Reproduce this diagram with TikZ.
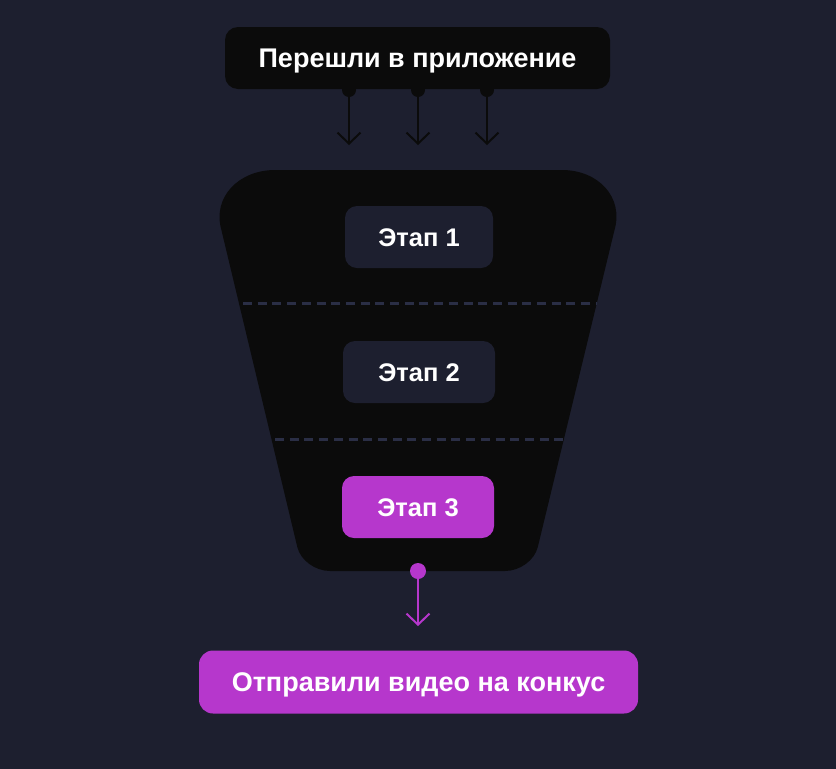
\documentclass[tikz,border=0pt]{standalone}
\usepackage{fontspec}
\setmainfont{Liberation Sans}
\usetikzlibrary{arrows.meta}
\definecolor{bg}{HTML}{1D1F2F}
\definecolor{blk}{HTML}{0B0B0B}
\definecolor{mag}{HTML}{B637CC}
\definecolor{dsh}{HTML}{2A2E45}
\tikzset{
  box/.style={rectangle, rounded corners=13pt, minimum height=62pt, inner sep=0pt, text=white, text height=18.5pt, text depth=0pt, font=\fontsize{27}{32}\selectfont\bfseries},
  darkbox/.style={box, fill=blk},
  stagebox/.style={box, fill=bg, rounded corners=12pt, font=\fontsize{25.5}{30}\selectfont\bfseries},
  hotbox/.style={box, fill=mag, rounded corners=12pt},
  sep/.style={dsh, line width=3pt, dash pattern=on 9pt off 5.7pt},
  conn/.style={line width=2pt, -{Straight Barb[length=11pt,width=23pt]}},
}
\begin{document}
\begin{tikzpicture}[x=1pt,y=-1pt]
\fill[bg] (0,0) rectangle (836,769);
\useasboundingbox (0,0) rectangle (836,769);
% funnel
\fill[blk] (275,170) -- (562,170) .. controls (598,170) and (624,197) .. (614.5,230)
  -- (537.8,547) .. controls (534.6,560.2) and (519.9,571) .. (505,571)
  -- (330,571) .. controls (315.2,571) and (300.4,560.2) .. (297.3,547)
  -- (221.4,230) .. controls (212,197) and (239,170) .. (275,170) -- cycle;
\coordinate (d1l) at (243,303); \coordinate (d1r) at (597,303);
\coordinate (d2l) at (275,439); \coordinate (d2r) at (565,439);
\draw[sep] (d1l) -- (d1r);
\draw[sep] (d2l) -- (d2r);
% top arrows
\coordinate (s1) at (349,90); \coordinate (e1) at (349,145);
\coordinate (s2) at (418,90); \coordinate (e2) at (418,145);
\coordinate (s3) at (487,90); \coordinate (e3) at (487,145);
\foreach \i in {1,2,3}{
  \fill[blk] (s\i) circle (7pt);
  \draw[conn, blk] (s\i) -- (e\i);
}
\node[darkbox, minimum width=385pt] (top) at (417.5,58) {Перешли в приложение};
\node[stagebox, minimum width=148pt] (st1) at (419,237) {Этап 1};
\node[stagebox, minimum width=152pt] (st2) at (419,372) {Этап 2};
\node[hotbox, minimum width=152pt, font=\fontsize{25.5}{30}\selectfont\bfseries] (st3) at (418,507) {Этап 3};
\node[hotbox, rounded corners=14pt, minimum width=439pt, minimum height=63pt] (res) at (418.5,682) {Отправили видео на конкус};
% bottom arrow
\coordinate (bs) at (418,571); \coordinate (be) at (418,626);
\fill[mag] (bs) circle (8pt);
\draw[conn, mag] (bs) -- (be);
\end{tikzpicture}
\end{document}
